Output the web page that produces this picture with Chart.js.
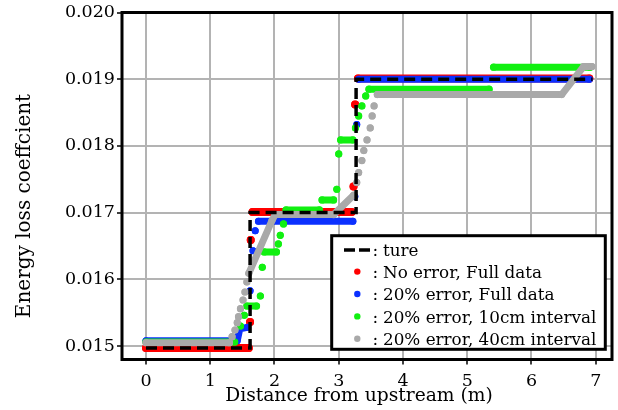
<!DOCTYPE html>
<html><head><meta charset="utf-8">
<script src="https://cdn.jsdelivr.net/npm/chart.js@4.4.1/dist/chart.umd.min.js"></script>
<style>html,body{margin:0;padding:0;background:#fff;}#wrap{width:618px;height:410px;position:relative;}</style>
</head><body><div id="wrap"><canvas id="c" width="618" height="410"></canvas></div>
<script>
// ---- data ----
const xTicks = [0, 1, 2, 3, 4, 5, 6, 7];
const xTickLabels = ['0', '1', '2', '3', '4', '5', '6', '7'];
const yTicks = [0.015, 0.016, 0.017, 0.018, 0.019, 0.020];
const yTickLabels = ['0.015', '0.016', '0.017', '0.018', '0.019', '0.020'];
const seriesNames = ['ture', 'No error, Full data', '20% error, Full data', '20% error, 10cm interval', '20% error, 40cm interval'];
const xTitle = 'Distance from upstream (m)';
const yTitle = 'Energy loss coeffcient';

const trueX = [0, 1.62, 1.62, 3.27, 3.27, 6.95];
const trueY = [0.01497, 0.01497, 0.01700, 0.01700, 0.01900, 0.01900];

// null in a Y array = break between separate marks
const redX = [0, 1.60, 1.60, 1.62, 1.62, 1.63, 1.63, 1.66, 3.20, 3.20, 3.23, 3.23, 3.255, 3.255, 3.30, 6.90];
const redY = [0.01497, 0.01497, null, 0.01536, null, 0.01659, null, 0.01701, 0.01701, null, 0.01739, null, 0.01862, null, 0.01901, 0.01901];

const blueX = [0, 1.42, 1.46, 1.58, 1.58, 1.62, 1.62, 1.665, 1.665, 1.70, 1.70, 1.75, 3.22, 3.22, 3.25, 3.25, 3.28, 3.28, 3.31, 6.90];
const blueY = [0.01508, 0.01508, 0.01526, 0.01528, null, 0.01583, null, 0.01643, null, 0.01673, null, 0.01687, 0.01687, null, 0.01724, null, 0.01832, null, 0.01900, 0.01900];

const greenX = [0, 1.38, 1.38, 1.47, 1.47, 1.53, 1.53, 1.57, 1.72, 1.72, 1.78, 1.78, 1.81, 1.81, 1.84, 2.03, 2.03, 2.06, 2.06, 2.09, 2.09, 2.14, 2.14, 2.18, 2.70, 2.70, 2.74, 2.92, 2.92, 2.97, 2.97, 3.00, 3.00, 3.03, 3.22, 3.22, 3.26, 3.26, 3.31, 3.31, 3.36, 3.36, 3.42, 3.42, 3.47, 5.34, 5.34, 5.41, 6.91];
const greenY = [0.01506, 0.01506, null, 0.01530, null, 0.01546, null, 0.01560, 0.01560, null, 0.01575, null, 0.01618, null, 0.01641, 0.01641, null, 0.01653, null, 0.01666, null, 0.01683, null, 0.01704, 0.01704, null, 0.01719, 0.01719, null, 0.01735, null, 0.01788, null, 0.01809, 0.01809, null, 0.01827, null, 0.01845, null, 0.01860, null, 0.01875, null, 0.01885, 0.01885, null, 0.01918, 0.01918];

const grayX = [0, 1.30, 1.30, 1.34, 1.34, 1.385, 1.385, 1.42, 1.42, 1.44, 1.44, 1.47, 1.47, 1.51, 1.51, 1.54, 1.54, 1.57, 1.57, 1.60, 1.96, 2.01, 2.92, 3.23, 3.23, 3.28, 3.28, 3.31, 3.31, 3.36, 3.36, 3.39, 3.39, 3.44, 3.44, 3.49, 3.49, 3.52, 3.52, 3.55, 3.55, 3.60, 6.47, 6.81, 6.94];
const grayY = [0.01505, 0.01505, null, 0.01514, null, 0.01524, null, 0.01535, null, 0.01544, null, 0.01556, null, 0.01569, null, 0.01581, null, 0.01596, null, 0.01609, 0.01688, 0.01697, 0.01697, 0.01726, null, 0.01745, null, 0.01760, null, 0.01778, null, 0.01793, null, 0.01809, null, 0.01827, null, 0.01845, null, 0.01860, null, 0.01877, 0.01877, 0.01919, 0.01919];

// ---- chart ----
const FONT = "'DejaVu Serif', serif";
const COLORS = { black: '#000000', red: '#ff0000', blue: '#0b30ff', green: '#11f011', gray: '#a9a9a9' };
const toPts = (xs, ys) => xs.map((x, i) => ({ x: x, y: ys[i] }));

function dotSeries(label, xs, ys, color, w, r, order) {
  return {
    label: label, data: toPts(xs, ys), order: order,
    borderColor: color, backgroundColor: color, borderWidth: w,
    borderCapStyle: 'round', borderJoinStyle: 'round',
    pointRadius: r, pointBorderWidth: 0, pointBackgroundColor: color, pointHoverRadius: r,
    spanGaps: false, tension: 0, fill: false
  };
}

const framePlugin = {
  id: 'frame',
  afterDraw(chart) {
    const a = chart.chartArea, c = chart.ctx;
    c.save(); c.strokeStyle = '#000'; c.lineWidth = 3;
    c.strokeRect(a.left, a.top, a.right - a.left, a.bottom - a.top);
    c.fillStyle = '#000'; c.textAlign = 'center'; c.textBaseline = 'middle';
    // x axis title
    c.font = '18.7px ' + FONT;
    c.fillText(xTitle, 359, 396);
    // y axis title
    c.translate(25, 206); c.rotate(-Math.PI / 2);
    c.font = '20px ' + FONT;
    c.fillText(yTitle, 0, 0);
    c.restore();
  }
};

const legendPlugin = {
  id: 'boxLegend',
  afterDraw(chart) {
    const c = chart.ctx;
    c.save();
    const bx = 331.7, by = 235.7, bw = 273.6, bh = 113.6;
    c.fillStyle = '#fff'; c.fillRect(bx, by, bw, bh);
    c.lineWidth = 3; c.strokeStyle = '#000'; c.strokeRect(bx, by, bw, bh);
    const colors = [COLORS.black, COLORS.red, COLORS.blue, COLORS.green, COLORS.gray];
    const base0 = 255.5, step = 22.4;
    c.font = '16.8px ' + FONT; c.fillStyle = '#000'; c.textBaseline = 'alphabetic'; c.textAlign = 'left';
    for (let i = 0; i < seriesNames.length; i++) {
      const base = base0 + i * step;
      if (i === 0) {
        c.strokeStyle = '#000'; c.lineWidth = 3.3; c.setLineDash([11, 4]);
        c.beginPath(); c.moveTo(344, base - 5.5); c.lineTo(370, base - 5.5); c.stroke(); c.setLineDash([]);
      } else {
        c.fillStyle = colors[i];
        c.beginPath(); c.arc(357.3, base - 6.3, 3.2, 0, Math.PI * 2); c.fill();
      }
      c.fillStyle = '#000';
      c.fillText(':', 372.5, base);
      c.fillText(seriesNames[i], 383, base);
    }
    c.restore();
  }
};

new Chart(document.getElementById('c'), {
  type: 'line',
  data: {
    datasets: [
      { label: seriesNames[0], data: toPts(trueX, trueY), order: 0, borderColor: '#000', borderWidth: 3.5,
        borderDash: [11, 6], pointRadius: 0, tension: 0, fill: false, borderCapStyle: 'butt' },
      dotSeries(seriesNames[1], redX, redY, COLORS.red, 8, 4, 4),
      dotSeries(seriesNames[2], blueX, blueY, COLORS.blue, 7, 3.5, 3),
      dotSeries(seriesNames[3], greenX, greenY, COLORS.green, 7, 3.6, 2),
      dotSeries(seriesNames[4], grayX, grayY, COLORS.gray, 7, 3.6, 1)
    ]
  },
  options: {
    responsive: false, animation: false, devicePixelRatio: 1,
    layout: { padding: { top: 11.4, right: 6, left: 0, bottom: 0 } },
    plugins: { legend: { display: false }, tooltip: { enabled: false } },
    events: [],
    scales: {
      x: {
        type: 'linear', min: -0.3735, max: 7.253,
        afterBuildTicks: s => { s.ticks = xTicks.map(v => ({ value: v })); },
        afterFit: s => { s.height = 50.5; },
        ticks: { font: { family: FONT, size: 17.5 }, color: '#000', padding: 6, maxRotation: 0,
                 callback: (v, i) => xTickLabels[i] },
        grid: { color: '#b3b3b3', lineWidth: 2, tickColor: '#000', tickWidth: 1.5, tickLength: 5 },
        border: { display: false },
        title: { display: false }
      },
      y: {
        type: 'linear', min: 0.014798, max: 0.020,
        afterBuildTicks: s => { s.ticks = yTicks.map(v => ({ value: v })); },
        afterFit: s => { s.width = 122; },
        ticks: { font: { family: FONT, size: 17.5 }, color: '#000', padding: 2,
                 callback: (v, i) => yTickLabels[i] },
        grid: { color: '#b3b3b3', lineWidth: 2, tickColor: '#000', tickWidth: 1.5, tickLength: 5 },
        border: { display: false },
        title: { display: false }
      }
    }
  },
  plugins: [framePlugin, legendPlugin]
});
</script></body></html>
